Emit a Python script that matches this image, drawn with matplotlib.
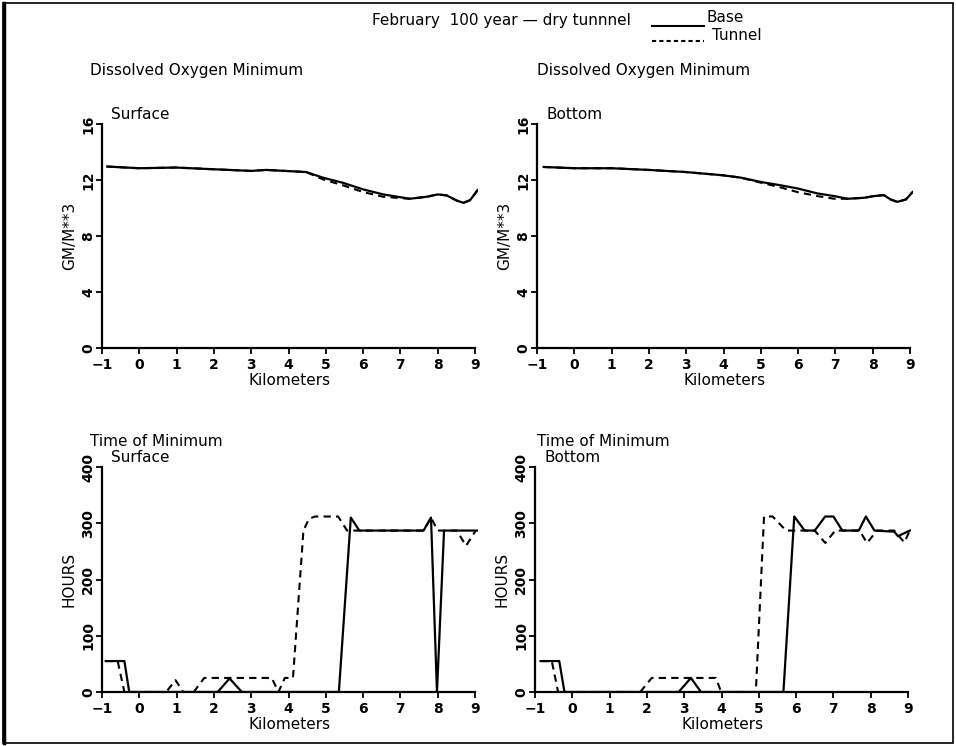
import matplotlib
matplotlib.use('Agg')
import matplotlib.pyplot as plt
from matplotlib.patches import Rectangle
from matplotlib.lines import Line2D

# --- data ---
# dissolved oxygen minimum, surface (GM/M**3)
do_surf_km = [-0.86, 0.0, 0.98, 1.97, 3.0, 3.4, 4.47, 4.92, 5.46, 6.0, 6.54, 7.25, 7.7, 8.0, 8.24, 8.5, 8.69, 8.87, 9.07]
do_surf_base = [12.96, 12.84, 12.89, 12.77, 12.65, 12.72, 12.57, 12.17, 11.8, 11.33, 10.97, 10.66, 10.8, 10.97, 10.9, 10.54, 10.37, 10.56, 11.28]
do_surf_tunnel = [12.96, 12.84, 12.89, 12.77, 12.65, 12.72, 12.57, 12.05, 11.62, 11.14, 10.8, 10.66, 10.8, 10.97, 10.9, 10.54, 10.37, 10.56, 11.28]

# dissolved oxygen minimum, bottom
do_bot_km = [-0.82, 0.03, 1.01, 1.99, 2.98, 3.97, 4.46, 5.0, 5.49, 5.98, 6.52, 6.97, 7.33, 7.77, 8.03, 8.3, 8.48, 8.66, 8.89, 9.07]
do_bot_base = [12.93, 12.84, 12.84, 12.72, 12.57, 12.34, 12.17, 11.86, 11.64, 11.4, 11.04, 10.85, 10.66, 10.73, 10.85, 10.92, 10.61, 10.44, 10.61, 11.14]
do_bot_tunnel = [12.93, 12.84, 12.84, 12.72, 12.57, 12.34, 12.17, 11.81, 11.5, 11.14, 10.85, 10.66, 10.66, 10.73, 10.85, 10.92, 10.61, 10.44, 10.61, 11.14]

# time of minimum, surface (hours)
tm_surf_base_km = [-0.9, -0.4, -0.27, 2.1, 2.42, 2.75, 5.35, 5.67, 5.9, 7.62, 7.82, 7.98, 8.17, 9.05]
tm_surf_base = [55, 55, 0, 0, 24, 0, 0, 310, 287, 287, 310, 0, 287, 287]
tm_surf_tun_km = [-0.9, -0.58, -0.4, 0.72, 0.97, 1.18, 1.46, 1.74, 3.55, 3.73, 3.9, 4.12,
                  4.4, 4.55, 4.71, 5.33, 5.57, 7.62, 7.82, 8.0, 8.51, 8.76, 9.02]
tm_surf_tun = [55, 55, 0, 0, 21, 0, 0, 25, 25, 0, 25, 25,
               287, 308, 312, 312, 287, 287, 310, 287, 287, 260, 287]

# time of minimum, bottom
tm_bot_base_km = [-0.85, -0.35, -0.21, 2.85, 3.18, 3.45, 5.66, 5.95, 6.23, 6.5, 6.78, 7.0, 7.24, 7.68, 7.87, 8.1, 8.63, 8.73, 9.05]
tm_bot_base = [55, 55, 0, 0, 25, 0, 0, 312, 287, 287, 312, 312, 287, 287, 312, 287, 285, 277, 287]
tm_bot_tun_km = [-0.85, -0.55, -0.38, 1.82, 2.13, 3.85, 3.99, 4.92, 5.14, 5.37, 5.73, 6.5, 6.78, 7.05, 7.7, 7.9, 8.17, 8.63, 8.9, 9.05]
tm_bot_tun = [55, 55, 0, 0, 25, 25, 0, 0, 312, 312, 287, 287, 265, 287, 287, 265, 287, 287, 266, 287]

x_ticks = list(range(-1, 10))
do_ticks = [0, 4, 8, 12, 16]
tm_ticks = [0, 100, 200, 300, 400]

W, H = 956, 746
plt.rcParams['font.family'] = ['DejaVu Sans']
fig = plt.figure(figsize=(W / 100, H / 100), dpi=100)

DASH = (0, (3.5, 2.5))


def px_axes(left, bottom_y, top_y, right):
    # pixel box -> figure fraction
    return fig.add_axes([left / W, 1 - bottom_y / H, (right - left) / W, (bottom_y - top_y) / H])


def style(ax, yticks, ymax, ylabel, tag):
    ax.set_xlim(-1, 9.08)
    ax.set_ylim(0, ymax)
    for s in ['top', 'right']:
        ax.spines[s].set_visible(False)
    ax.spines['bottom'].set_bounds(-1, 9)
    for s in ['left', 'bottom']:
        ax.spines[s].set_linewidth(1.6)
    ax.set_xticks(x_ticks)
    ax.set_yticks(yticks)
    ax.tick_params(direction='out', length=4, width=1.3, labelsize=10, pad=3)
    ax.tick_params(axis='y', pad=1)
    for lab in ax.get_yticklabels():
        lab.set_rotation(90)
        lab.set_va('center')
        lab.set_fontweight('bold')
    for lab in ax.get_xticklabels():
        lab.set_fontweight('bold')
    ax.set_xlabel('Kilometers', fontsize=11, labelpad=1)
    if ylabel:
        ax.set_ylabel(ylabel, fontsize=11, labelpad=3)
    ax.text(0.025, 1.01, tag, transform=ax.transAxes, fontsize=11, ha='left', va='bottom')


ax1 = px_axes(102, 348, 124, 478)
ax1.plot(do_surf_km, do_surf_tunnel, color='black', lw=1.5, ls=DASH)
ax1.plot(do_surf_km, do_surf_base, color='black', lw=1.6)
style(ax1, do_ticks, 16, 'GM/M**3', 'Surface')

ax2 = px_axes(537, 348, 124, 913)
ax2.plot(do_bot_km, do_bot_tunnel, color='black', lw=1.5, ls=DASH)
ax2.plot(do_bot_km, do_bot_base, color='black', lw=1.6)
style(ax2, do_ticks, 16, 'GM/M**3', 'Bottom')

ax3 = px_axes(102, 692, 467, 478)
ax3.plot(tm_surf_tun_km, tm_surf_tun, color='black', lw=1.5, ls=DASH)
ax3.plot(tm_surf_base_km, tm_surf_base, color='black', lw=1.6)
style(ax3, tm_ticks, 400, 'HOURS', 'Surface')

ax4 = px_axes(535, 692, 467, 911)
ax4.plot(tm_bot_tun_km, tm_bot_tun, color='black', lw=1.5, ls=DASH)
ax4.plot(tm_bot_base_km, tm_bot_base, color='black', lw=1.6)
style(ax4, tm_ticks, 400, 'HOURS', 'Bottom')

# headings
fig.text(372 / W, 1 - 21 / H, 'February  100 year \u2014 dry tunnnel', fontsize=11, ha='left', va='center')
fig.add_artist(Line2D([652 / W, 704 / W], [1 - 26 / H] * 2, color='black', lw=1.5))
fig.add_artist(Line2D([652 / W, 704 / W], [1 - 41 / H] * 2, color='black', lw=1.5, ls=(0, (2, 1.5))))
fig.text(707 / W, 1 - 18 / H, 'Base', fontsize=11, ha='left', va='center')
fig.text(712 / W, 1 - 36 / H, 'Tunnel', fontsize=11, ha='left', va='center')

fig.text(90 / W, 1 - 70 / H, 'Dissolved Oxygen Minimum', fontsize=11, ha='left', va='center')
fig.text(537 / W, 1 - 70 / H, 'Dissolved Oxygen Minimum', fontsize=11, ha='left', va='center')
fig.text(90 / W, 1 - 442 / H, 'Time of Minimum', fontsize=11, ha='left', va='center')
fig.text(537 / W, 1 - 442 / H, 'Time of Minimum', fontsize=11, ha='left', va='center')

# outer frame
fig.add_artist(Rectangle((3 / W, 3 / H), 950 / W, 740 / H, fill=False, lw=1.2, ec='black',
                         transform=fig.transFigure))
fig.add_artist(Line2D([4 / W, 4 / W], [3 / H, 743 / H], color='black', lw=2.5))

fig.savefig('out.png', dpi=100)
plt.close(fig)
